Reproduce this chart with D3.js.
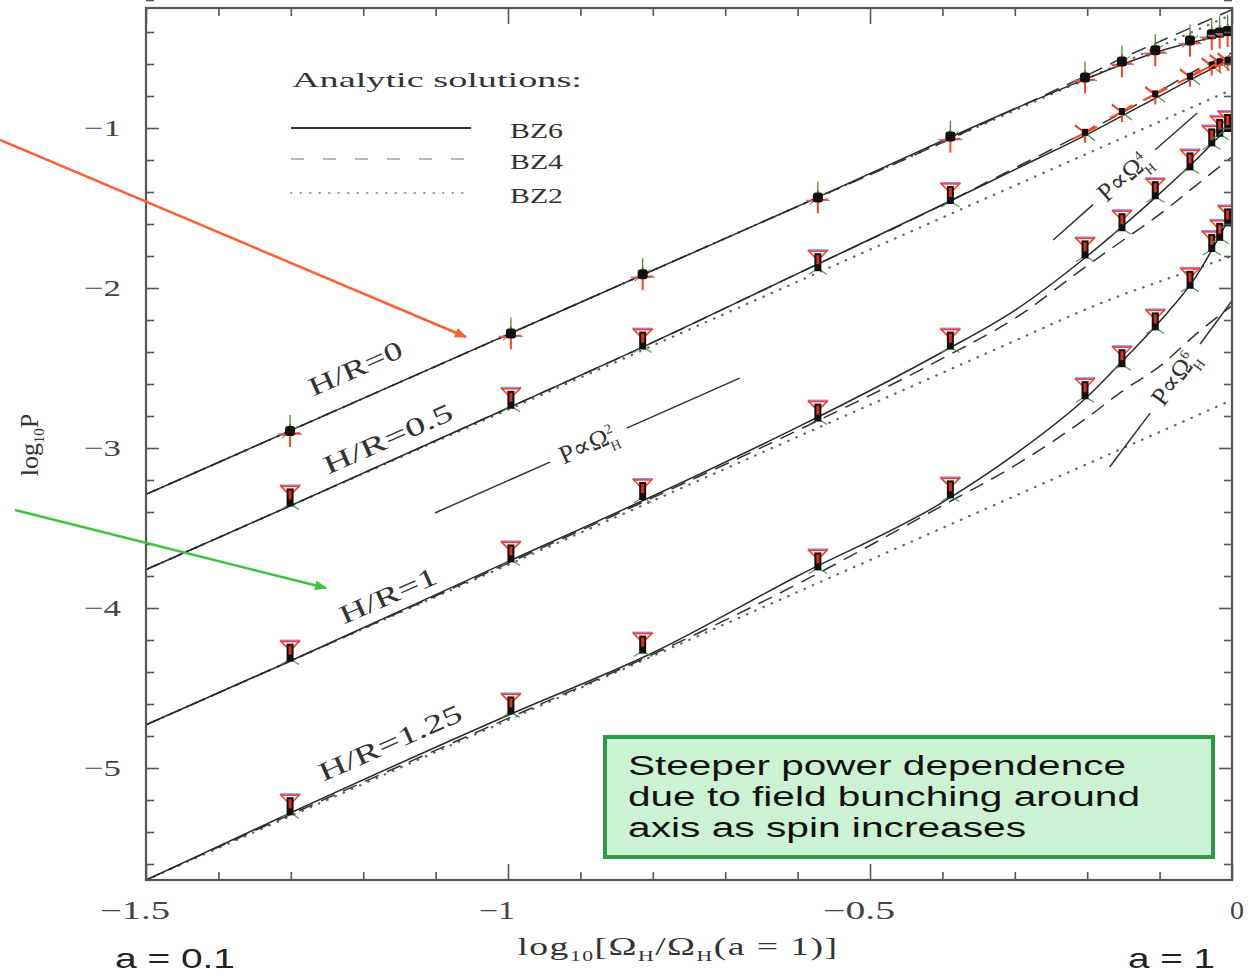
<!DOCTYPE html>
<html>
<head>
<meta charset="utf-8">
<script src="https://cdn.jsdelivr.net/npm/d3@7"></script>
<style>
  body { margin: 0; background: #fff; }
  svg { display: block; }
</style>
</head>
<body>
<svg id="chart" width="1249" height="975"></svg>
<script>
// analytic curves, sampled at these log10(Omega_H) values
const xGrid = [-1.5, -1.3, -1.0, -0.8, -0.6, -0.4, -0.3, -0.2, -0.15, -0.1, -0.05, 0];

const hr0_bz6 = [-3.29, -2.89, -2.29, -1.89, -1.49, -1.08, -0.88, -0.69, -0.60, -0.52, -0.46, -0.41];
const hr0_bz4 = [-3.29, -2.89, -2.29, -1.89, -1.49, -1.09, -0.88, -0.67, -0.56, -0.46, -0.36, -0.26];
const hr0_bz2 = [-3.29, -2.89, -2.29, -1.89, -1.49, -1.09, -0.89, -0.69, -0.59, -0.49, -0.39, -0.29];

const hr05_bz6 = [-3.76, -3.36, -2.75, -2.34, -1.91, -1.48, -1.26, -1.04, -0.92, -0.80, -0.68, -0.57];
const hr05_bz4 = [-3.76, -3.36, -2.75, -2.34, -1.91, -1.48, -1.25, -1.02, -0.90, -0.77, -0.64, -0.53];
const hr05_bz2 = [-3.76, -3.36, -2.76, -2.36, -1.96, -1.56, -1.36, -1.16, -1.06, -0.96, -0.86, -0.76];

const hr1_bz6 = [-4.73, -4.33, -3.71, -3.30, -2.87, -2.40, -2.14, -1.80, -1.61, -1.41, -1.20, -0.97];
const hr1_bz4 = [-4.73, -4.33, -3.72, -3.31, -2.89, -2.44, -2.19, -1.86, -1.70, -1.54, -1.36, -1.18];
const hr1_bz2 = [-4.73, -4.33, -3.73, -3.33, -2.93, -2.53, -2.33, -2.13, -2.04, -1.96, -1.88, -1.80];

const hr125_bz6 = [-5.70, -5.28, -4.67, -4.28, -3.80, -3.34, -3.04, -2.68, -2.45, -2.21, -1.93, -1.53];
const hr125_bz4 = [-5.70, -5.29, -4.69, -4.29, -3.85, -3.36, -3.11, -2.81, -2.64, -2.49, -2.29, -2.11];
const hr125_bz2 = [-5.70, -5.30, -4.70, -4.30, -3.90, -3.50, -3.30, -3.10, -3.00, -2.90, -2.80, -2.70];

// simulation points
const simX = [-1.301, -0.996, -0.814, -0.572, -0.389, -0.203, -0.152, -0.106, -0.058, -0.028, -0.017, -0.006];
const sim0 = [-2.90, -2.29, -1.92, -1.44, -1.06, -0.69, -0.59, -0.52, -0.46, -0.42, -0.41, -0.40];
const sim05 = [-3.34, -2.73, -2.36, -1.87, -1.45, -1.03, -0.90, -0.79, -0.68, -0.61, -0.59, -0.58];
const sim1 = [-4.31, -3.69, -3.30, -2.81, -2.36, -1.79, -1.62, -1.42, -1.24, -1.09, -1.03, -1.00];
const sim125 = [-5.27, -4.64, -4.26, -3.74, -3.29, -2.67, -2.47, -2.24, -1.98, -1.75, -1.68, -1.59];

const hrLabels = ["H/R=0", "H/R=0.5", "H/R=1", "H/R=1.25"];
const hrLabelX = [-1.211, -1.166, -1.166, -1.163];
const hrLabelY = [-2.50, -2.94, -3.92, -4.84];
const hrLabelLen = [100, 139, 104, 154];

// power-law guide lines, each drawn as two pieces around its label
const pl2 = [[[-1.101, -3.406], [-0.942, -3.088]], [[-0.836, -2.876], [-0.680, -2.563]]];
const pl4 = [[[-0.247, -1.700], [-0.192, -1.479]], [[-0.106, -1.136], [-0.048, -0.906]]];
const pl6 = [[[-0.169, -3.119], [-0.113, -2.782]], [[-0.044, -2.350], [0.0, -2.080]]];
const plExp = ["2", "4", "6"];

const xTicks = [-1.5, -1, -0.5, 0];
const xTickLabels = ["\u22121.5", "\u22121", "\u22120.5", "0"];
const yTicks = [-5, -4, -3, -2, -1];
const yTickLabels = ["\u22125", "\u22124", "\u22123", "\u22122", "\u22121"];

const legendNames = ["BZ6", "BZ4", "BZ2"];
const boxLines = ["Steeper power dependence", "due to field bunching around", "axis as spin increases"];

const series = [
    { bz6: hr0_bz6, bz4: hr0_bz4, bz2: hr0_bz2, sim: sim0, marker: "blob" },
    { bz6: hr05_bz6, bz4: hr05_bz4, bz2: hr05_bz2, sim: sim05, marker: "hourglass" },
    { bz6: hr1_bz6, bz4: hr1_bz4, bz2: hr1_bz2, sim: sim1, marker: "hourglass" },
    { bz6: hr125_bz6, bz4: hr125_bz4, bz2: hr125_bz2, sim: sim125, marker: "hourglass" }
];

const serif = "'Liberation Serif', 'DejaVu Serif', serif";
const sans = "'Liberation Sans', Arial, sans-serif";

const svg = d3.select("#chart");
svg.append("rect").attr("width", 1249).attr("height", 975).attr("fill", "#fff");

const x = d3.scaleLinear().domain([-1.5, 0]).range([146, 1232]);
const y = d3.scaleLinear().domain([-5.7, -0.25]).range([880, 8]);

const defs = svg.append("defs");
defs.append("clipPath").attr("id", "plotClip")
    .append("rect").attr("x", 146).attr("y", 8).attr("width", 1086).attr("height", 872);
[["arrOrange", "#ff5f33"], ["arrGreen", "#3cc43c"]].forEach(([id, c]) => {
    defs.append("marker").attr("id", id).attr("viewBox", "0 0 12 10")
        .attr("refX", 11).attr("refY", 5).attr("markerWidth", 12).attr("markerHeight", 10)
        .attr("markerUnits", "userSpaceOnUse").attr("orient", "auto")
        .append("path").attr("d", "M0,0 L12,5 L0,10 z").attr("fill", c);
});

const plot = svg.append("g").attr("clip-path", "url(#plotClip)");

// Analytic curves
let line = d3.line()
    .x((d, i) => x(xGrid[i]))
    .y(d => y(d))
    .curve(d3.curveMonotoneX);

const styles = {
    bz2: { color: "#666", width: 2.3, dash: "0.5,8.5", cap: "round" },
    bz4: { color: "#333", width: 1.5, dash: "15,9", cap: "butt" },
    bz6: { color: "#2a2a2a", width: 1.5, dash: null, cap: "butt" }
};
["bz2", "bz4", "bz6"].forEach(k => {
    series.forEach(s => {
        plot.append("path")
            .datum(s[k])
            .attr("fill", "none")
            .attr("stroke", styles[k].color)
            .attr("stroke-width", styles[k].width)
            .attr("stroke-dasharray", styles[k].dash)
            .attr("stroke-linecap", styles[k].cap)
            .attr("d", line);
    });
});

// Simulation markers
function drawMarker(g, cx, cy, type) {
    const seg = (x1, y1, x2, y2, c, w) => g.append("line")
        .attr("x1", cx + x1).attr("y1", cy + y1).attr("x2", cx + x2).attr("y2", cy + y2)
        .attr("stroke", c).attr("stroke-width", w);
    if (type === "blob") {
        seg(-12, 2, 12, 2, "#8a8aff", 1.5);
        seg(-10, 3, 10, 1, "#ff4422", 1.8);
        seg(0, -8, 0, 15, "#ff4422", 2);
        seg(0, -17, 0, -6, "#3f8f3f", 1.3);
        seg(-8, 6, 8, -6, "#3f8f3f", 1);
        g.append("rect").attr("x", cx - 5).attr("y", cy - 6).attr("width", 10).attr("height", 10)
            .attr("rx", 3).attr("fill", "#111");
    } else if (type === "star") {
        seg(-10, -8, 10, 8, "#3f8f3f", 1.2);
        seg(-12, 6, 12, -6, "#ff4422", 2);
        seg(-10, -7, 0, 0, "#ff4422", 2);
        seg(10, -7, 0, 0, "#ff4422", 2);
        seg(0, 0, 0, 10, "#ff4422", 2);
        g.append("rect").attr("x", cx - 3).attr("y", cy - 4).attr("width", 6).attr("height", 7).attr("fill", "#111");
    } else {
        seg(-10, -17, 10, -17, "#8f8fff", 2);
        seg(-9, -16, 9, -16, "#ff3b1f", 1.5);
        seg(-10, -17, -2, -9, "#ff3b1f", 1.6);
        seg(10, -17, 2, -9, "#ff3b1f", 1.6);
        seg(-9, 7, -1, 2, "#4c9a4c", 1.2);
        seg(9, 7, 1, 2, "#4c9a4c", 1.2);
        g.append("rect").attr("x", cx - 3.5).attr("y", cy - 14).attr("width", 7).attr("height", 18).attr("fill", "#111");
        g.append("rect").attr("x", cx - 1.5).attr("y", cy - 12).attr("width", 3).attr("height", 9).attr("fill", "#e0301a");
    }
}

const markG = plot.append("g");
series.forEach((s, si) => {
    s.sim.forEach((v, i) => {
        let type = s.marker;
        if (si === 1 && simX[i] > -0.3) type = "star";
        drawMarker(markG, x(simX[i]), y(v), type);
    });
});

// Power-law guide lines and labels
const slopeAngle = (p, q) => Math.atan2(y(q[1]) - y(p[1]), x(q[0]) - x(p[0])) * 180 / Math.PI;
[pl2, pl4, pl6].forEach((pl, k) => {
    pl.forEach(segm => {
        plot.append("line")
            .attr("x1", x(segm[0][0])).attr("y1", y(segm[0][1]))
            .attr("x2", x(segm[1][0])).attr("y2", y(segm[1][1]))
            .attr("stroke", "#333").attr("stroke-width", 1.5);
    });
    const a = slopeAngle(pl[0][0], pl[1][1]);
    const cx = (x(pl[0][1][0]) + x(pl[1][0][0])) / 2;
    const cy = (y(pl[0][1][1]) + y(pl[1][0][1])) / 2;
    const t = svg.append("text")
        .attr("transform", `translate(${cx},${cy}) rotate(${a})`)
        .attr("text-anchor", "middle")
        .attr("dy", "0.3em")
        .attr("font-family", serif)
        .attr("font-size", 26)
        .attr("fill", "#333");
    t.append("tspan").text("P\u221D\u03A9");
    t.append("tspan").attr("font-size", 14).attr("dy", -10).text(plExp[k]);
    t.append("tspan").attr("font-size", 14).attr("dx", -8).attr("dy", 18).text("H");
});

// H/R labels
const hrAngle = slopeAngle([xGrid[0], hr05_bz2[0]], [xGrid[4], hr05_bz2[4]]);
hrLabels.forEach((lab, i) => {
    svg.append("text")
        .attr("transform", `translate(${x(hrLabelX[i])},${y(hrLabelY[i])}) rotate(${hrAngle})`)
        .attr("text-anchor", "middle")
        .attr("dy", "0.35em")
        .attr("font-family", serif)
        .attr("font-size", 26)
        .attr("fill", "#333")
        .attr("textLength", hrLabelLen[i])
        .attr("lengthAdjust", "spacingAndGlyphs")
        .text(lab);
});

// Axes frame and ticks
const axG = svg.append("g").attr("stroke", "#555");
const yMinor = d3.range(-56, -1, 2).map(d => d / 10).filter(d => !yTicks.includes(d));
const xMinor = d3.range(-14, 0, 1).map(d => d / 10).filter(d => !xTicks.includes(d));

function tickAxis(axis, tr) {
    axG.append("g").attr("transform", tr).call(axis)
        .call(g => g.select(".domain").remove())
        .call(g => g.selectAll("text").remove())
        .call(g => g.selectAll("line").attr("stroke", "#555").attr("stroke-width", 1.6));
}
tickAxis(d3.axisLeft(y).tickValues(yTicks).tickSize(-13), "translate(146,0)");
tickAxis(d3.axisLeft(y).tickValues(yMinor).tickSize(-8), "translate(146,0)");
tickAxis(d3.axisRight(y).tickValues(yTicks).tickSize(-13), "translate(1232,0)");
tickAxis(d3.axisRight(y).tickValues(yMinor).tickSize(-8), "translate(1232,0)");
tickAxis(d3.axisBottom(x).tickValues(xTicks).tickSize(-16), "translate(0,880)");
tickAxis(d3.axisBottom(x).tickValues(xMinor).tickSize(-8), "translate(0,880)");
tickAxis(d3.axisTop(x).tickValues(xTicks).tickSize(-16), "translate(0,8)");
tickAxis(d3.axisTop(x).tickValues(xMinor).tickSize(-8), "translate(0,8)");

svg.append("rect")
    .attr("x", x(-1.5)).attr("y", y(-0.25))
    .attr("width", x(0) - x(-1.5)).attr("height", y(-5.7) - y(-0.25))
    .attr("fill", "none").attr("stroke", "#555").attr("stroke-width", 2.2);

// Tick labels
yTicks.forEach((v, i) => {
    svg.append("text")
        .attr("x", 121).attr("y", y(v) + 8)
        .attr("text-anchor", "end")
        .attr("font-family", serif).attr("font-size", 24).attr("fill", "#444")
        .attr("textLength", 37).attr("lengthAdjust", "spacingAndGlyphs")
        .text(yTickLabels[i]);
});
const xLabLen = [70, 36, 72, 14];
xTicks.forEach((v, i) => {
    svg.append("text")
        .attr("x", x(v) + (v === 0 ? 5 : -11)).attr("y", 919)
        .attr("text-anchor", "middle")
        .attr("font-family", serif).attr("font-size", 25).attr("fill", "#444")
        .attr("textLength", xLabLen[i]).attr("lengthAdjust", "spacingAndGlyphs")
        .text(xTickLabels[i]);
});

// Axis titles
const xt = svg.append("g").attr("transform", "translate(678,955) scale(1.45,1)")
    .append("text")
    .attr("text-anchor", "middle")
    .attr("font-family", serif).attr("font-size", 26).attr("fill", "#333")
    .attr("letter-spacing", 1);
xt.append("tspan").text("log");
xt.append("tspan").attr("font-size", 15).attr("dy", 6).text("10");
xt.append("tspan").attr("dy", -6).text("[\u03A9");
xt.append("tspan").attr("font-size", 15).attr("dy", 6).text("H");
xt.append("tspan").attr("dy", -6).text("/\u03A9");
xt.append("tspan").attr("font-size", 15).attr("dy", 6).text("H");
xt.append("tspan").attr("dy", -6).text("(a = 1)]");

const yt = svg.append("text")
    .attr("transform", "translate(38,445) rotate(-90)")
    .attr("text-anchor", "middle")
    .attr("font-family", serif).attr("font-size", 26).attr("fill", "#333");
yt.append("tspan").text("log");
yt.append("tspan").attr("font-size", 15).attr("dy", 6).text("10");
yt.append("tspan").attr("dy", -6).text("P");

svg.append("text").attr("x", 115).attr("y", 968)
    .attr("font-family", sans).attr("font-size", 28).attr("fill", "#222")
    .attr("textLength", 120).attr("lengthAdjust", "spacingAndGlyphs")
    .text("a = 0.1");
svg.append("text").attr("x", 1128).attr("y", 968)
    .attr("font-family", sans).attr("font-size", 28).attr("fill", "#222")
    .attr("textLength", 87).attr("lengthAdjust", "spacingAndGlyphs")
    .text("a = 1");

// Legend
svg.append("text").attr("x", 292).attr("y", 87)
    .attr("font-family", serif).attr("font-size", 22).attr("fill", "#333")
    .attr("textLength", 290).attr("lengthAdjust", "spacingAndGlyphs")
    .text("Analytic solutions:");
const legKeys = ["bz6", "bz4", "bz2"];
const legY = [128, 159, 193];
const legColor = ["#333", "#bbb", "#999"];
legKeys.forEach((k, i) => {
    svg.append("line")
        .attr("x1", 291).attr("x2", 471).attr("y1", legY[i]).attr("y2", legY[i])
        .attr("stroke", legColor[i]).attr("stroke-width", k === "bz2" ? 2 : 1.8)
        .attr("stroke-dasharray", k === "bz4" ? "13,19" : k === "bz2" ? "0.5,9" : null)
        .attr("stroke-linecap", k === "bz2" ? "round" : "butt");
    svg.append("text").attr("x", 510).attr("y", legY[i] + 10)
        .attr("font-family", serif).attr("font-size", 20).attr("fill", "#333")
        .attr("textLength", 53).attr("lengthAdjust", "spacingAndGlyphs")
        .text(legendNames[i]);
});

// Note box
svg.append("rect").attr("x", 605).attr("y", 737).attr("width", 608).attr("height", 120)
    .attr("fill", "#ccf2d4").attr("stroke", "#2e9a45").attr("stroke-width", 4);
const boxLen = [498, 512, 398];
boxLines.forEach((t, i) => {
    svg.append("text").attr("x", 628).attr("y", 775 + i * 31)
        .attr("font-family", sans).attr("font-size", 27).attr("fill", "#111")
        .attr("textLength", boxLen[i]).attr("lengthAdjust", "spacingAndGlyphs")
        .text(t);
});

// Arrows
svg.append("line").attr("x1", 0).attr("y1", 140).attr("x2", 466).attr("y2", 337)
    .attr("stroke", "#ff5f33").attr("stroke-width", 2.5).attr("marker-end", "url(#arrOrange)");
svg.append("line").attr("x1", 15).attr("y1", 510).attr("x2", 326).attr("y2", 588)
    .attr("stroke", "#3cc43c").attr("stroke-width", 2.5).attr("marker-end", "url(#arrGreen)");
</script>
</body>
</html>
